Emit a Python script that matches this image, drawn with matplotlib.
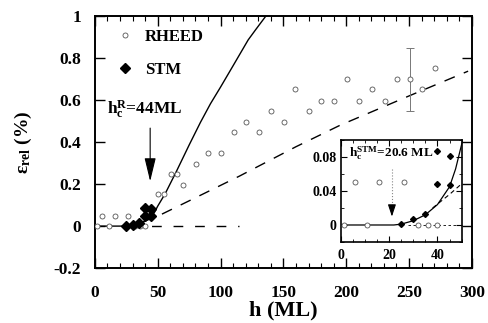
import matplotlib
matplotlib.use("Agg")
from matplotlib import pyplot as plt
from matplotlib.ticker import MultipleLocator

plt.rcParams['font.family'] = ['Liberation Serif', 'DejaVu Serif']
plt.rcParams['font.weight'] = 'bold'
plt.rcParams['mathtext.fontset'] = 'custom'
plt.rcParams['mathtext.rm'] = 'Liberation Serif:bold'
plt.rcParams['mathtext.it'] = 'Liberation Serif:bold'
plt.rcParams['mathtext.bf'] = 'Liberation Serif:bold'

# RHEED points (open circles)
h_rheed = [1.5, 6, 11, 16, 26, 32, 36, 40, 50.5, 55, 60.5, 65, 70.5, 80.5, 90, 100,
           110.5, 120.5, 130.5, 140.5, 150.5, 159, 170.5, 180, 190, 200.5,
           210.5, 220.5, 230.5, 240.5, 250.5, 260.5, 270.5]
eps_rheed = [0, 0.05, 0, 0.05, 0.05, 0, 0, 0, 0.154, 0.154, 0.246, 0.246, 0.195, 0.294, 0.346, 0.346,
             0.448, 0.495, 0.449, 0.546, 0.495, 0.651, 0.548, 0.595, 0.595, 0.699,
             0.595, 0.651, 0.598, 0.702, 0.703, 0.651, 0.754]

# STM points (filled diamonds)
h_stm = [25, 30, 35, 40, 40, 45, 45]
eps_stm = [0.001, 0.007, 0.013, 0.048, 0.087, 0.047, 0.081]

# solid fit curve
h_fit = [0, 22, 25, 30, 35, 40, 45, 47.5, 50, 56, 65, 75, 84, 92, 100, 110, 122, 128, 136]
eps_fit = [0, 0, 0.001, 0.005, 0.012, 0.024, 0.045, 0.066, 0.095, 0.155, 0.262, 0.386,
           0.494, 0.583, 0.662, 0.764, 0.887, 0.936, 1.0]

# dashed curve
h_dash = [38, 45, 53, 80, 115, 160, 195, 250, 297]
eps_dash = [0.02, 0.036, 0.056, 0.135, 0.238, 0.378, 0.48, 0.62, 0.738]

# dashed zero line
h_zero = [28, 115]
eps_zero = [0, 0]

# error bar
h_err = [250.4]
eps_err = [0.70]
err = [0.15]

hc_R = 44
hc_STM = 21.2

fig = plt.figure(figsize=(4.89, 3.23), dpi=100)
ax = fig.add_axes([0.194, 0.170, 0.771, 0.780])

ax.plot(h_fit, eps_fit, color='k', lw=1.0, zorder=3)
ax.plot(h_dash, eps_dash, color='k', lw=1.0, dashes=(8, 7), zorder=2)
ax.plot(h_zero, eps_zero, color='k', lw=1.0, dashes=(7, 8.5), zorder=2)
ax.errorbar(h_err, eps_err, yerr=err, fmt='none', ecolor='#777777', elinewidth=0.7,
            capsize=3, capthick=0.7, zorder=2)
ax.plot(h_rheed, eps_rheed, 'o', ms=3.6, mfc='white', mec='#555555', mew=0.6,
        ls='none', label='RHEED', zorder=4)
ax.plot(h_stm, eps_stm, 'D', ms=4.8, color='k', ls='none', label='STM', zorder=5)

ax.annotate('', xy=(hc_R, 0.2), xytext=(hc_R, 0.48),
            arrowprops=dict(arrowstyle='-|>,head_length=1.45,head_width=0.35',
                            mutation_scale=10, lw=0.8, color='k'))
ax.text(9.6, 0.556, r'h$_\mathrm{c}^\mathrm{R}$=44ML', fontsize=12.5, fontweight='bold',
        ha='left', va='center')

ax.set_xlim(0, 300)
ax.set_ylim(-0.2, 1.0)
ax.xaxis.set_major_locator(MultipleLocator(50))
ax.xaxis.set_minor_locator(MultipleLocator(10))
ax.set_yticks([-0.2, 0, 0.2, 0.4, 0.6, 0.8, 1.0])
ax.set_yticklabels(['-0.2', '0', '0.2', '0.4', '0.6', '0.8', '1'])
ax.tick_params(which='both', direction='in', top=True, right=True)
ax.tick_params(which='major', length=7, width=1.0, labelsize=12.5)
ax.tick_params(which='minor', length=3.5, width=0.8)
ax.tick_params(axis='x', pad=12)
ax.tick_params(axis='y', pad=10)
for s in ax.spines.values():
    s.set_linewidth(1.4)

ax.set_xlabel('h (ML)', fontsize=16, fontweight='bold', labelpad=0)
ax.set_ylabel(r'ε$_\mathrm{rel}$ (%)', fontsize=14, fontweight='bold', labelpad=14)

leg = ax.legend(loc='upper left', bbox_to_anchor=(0.057, 0.948), frameon=False,
                fontsize=12, handlelength=1.0, handletextpad=0.7, labelspacing=1.0,
                borderpad=0, borderaxespad=0, markerscale=1.0)

# inset
ins = fig.add_axes([0.6965, 0.2508, 0.2476, 0.3158])
ins.set_facecolor('white')
ins.plot(h_fit, eps_fit, color='k', lw=0.9, zorder=3)
ins.plot(h_dash, eps_dash, color='k', lw=0.8, dashes=(4, 3), zorder=2)
ins.plot(h_zero, eps_zero, color='k', lw=0.6, dashes=(3, 3), zorder=2)
ins.plot(h_rheed, eps_rheed, 'o', ms=3.6, mfc='white', mec='#555555', mew=0.6,
         ls='none', zorder=4)
ins.plot(h_stm, eps_stm, 'D', ms=3.0, color='k', ls='none', zorder=5)
ins.plot([hc_STM, hc_STM], [0.066, 0.018], color='#888888', lw=0.8, ls=':')
ins.annotate('', xy=(hc_STM, 0.0066), xytext=(hc_STM, 0.02),
             arrowprops=dict(arrowstyle='-|>,head_length=0.9,head_width=0.3',
                             mutation_scale=8, lw=0.8, color='k'))
ins.text(3.5, 0.085, r'h$_\mathrm{c}^\mathrm{STM}$=20.6 ML', fontsize=9.5,
         fontweight='bold', ha='left', va='center')
ins.set_xlim(0, 50)
ins.set_ylim(-0.02, 0.1)
ins.set_xticks([0, 20, 40])
ins.set_yticks([0, 0.04, 0.08])
ins.set_yticklabels(['0', '0.04', '0.08'])
ins.xaxis.set_minor_locator(MultipleLocator(5))
ins.yaxis.set_minor_locator(MultipleLocator(0.02))
ins.tick_params(which='both', direction='in', top=True, right=True)
ins.tick_params(which='major', length=4, width=0.8, labelsize=10)
ins.tick_params(which='minor', length=2, width=0.6)
ins.tick_params(axis='x', pad=5)
ins.tick_params(axis='y', pad=3)
for s in ins.spines.values():
    s.set_linewidth(1.2)

fig.savefig('out.png', dpi=100)
